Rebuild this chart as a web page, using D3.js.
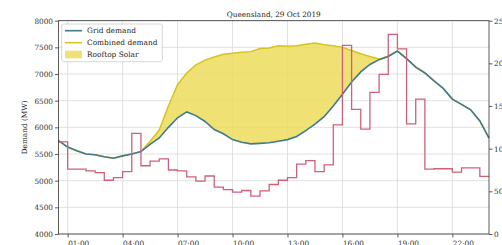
<!DOCTYPE html>
<html>
<head>
<meta charset="utf-8">
<script src="https://cdn.jsdelivr.net/npm/d3@7"></script>
<style>
  body { margin: 0; background: #fff; }
  svg { display: block; font-family: "DejaVu Serif", serif; }
</style>
</head>
<body>
<svg id="chart" width="502" height="245"></svg>
<script>
// Half-hourly readings, 00:30 to 24:00
var gridDemand = [5750, 5630, 5560, 5500, 5485, 5450, 5420, 5465, 5500, 5545,
    5680, 5800, 6000, 6180, 6290, 6220, 6110, 5960, 5880, 5770,
    5720, 5690, 5700, 5710, 5740, 5770, 5830, 5940, 6060, 6200,
    6400, 6620, 6850, 7040, 7180, 7270, 7330, 7430, 7290, 7130,
    7020, 6870, 6730, 6530, 6430, 6330, 6120, 5800];

var combinedDemand = [5750, 5630, 5560, 5500, 5485, 5450, 5420, 5465, 5500, 5545,
    5740, 5950, 6400, 6800, 7020, 7170, 7260, 7320, 7370, 7390,
    7410, 7420, 7480, 7490, 7530, 7520, 7530, 7560, 7580, 7550,
    7530, 7500, 7440, 7380, 7330, 7280, 7340, 7430, 7290, 7130,
    7020, 6870, 6730, 6530, 6430, 6330, 6120, 5800];

// right axis, step line
var price = [108, 76, 76, 74, 72, 63, 66, 73, 118, 80,
    85.5, 88, 75, 74, 67, 62, 68, 55, 52, 49,
    51, 44.5, 50.5, 58, 63, 66, 82, 86, 73, 81,
    128, 221, 146, 123, 166, 187, 234, 217, 129, 158,
    76, 76.5, 76.5, 72.5, 77.5, 77.5, 67.5, 67.5];

var demandTicks = [4000, 4500, 5000, 5500, 6000, 6500, 7000, 7500, 8000];
var priceTicks = [0, 50, 100, 150, 200, 250];
var hourTicks = [1, 4, 7, 10, 13, 16, 19, 22];

var startTime = new Date(2019, 9, 29, 0, 30);
var times = d3.range(gridDemand.length).map(i => d3.timeMinute.offset(startTime, 30 * i));
var data = times.map((t, i) => ({
    t: t, grid: gridDemand[i], combined: combinedDemand[i], price: price[i]
}));

var plotLeft = 58.5, plotRight = 489, plotTop = 20.7, plotBottom = 234;
var svg = d3.select("#chart");

var x = d3.scaleTime().domain([times[0], times[times.length - 1]]).range([plotLeft, plotRight]);
var y = d3.scaleLinear().domain([4000, 8000]).range([plotBottom, plotTop]);
var y2 = d3.scaleLinear().domain([0, 250]).range([plotBottom, plotTop]);
var tickDates = hourTicks.map(h => new Date(2019, 9, 29, h, 0));

// grid lines
svg.append("g").selectAll("line").data(tickDates).enter().append("line")
    .attr("x1", d => x(d)).attr("x2", d => x(d))
    .attr("y1", plotTop).attr("y2", plotBottom)
    .attr("stroke", "#d9d9d9").attr("stroke-width", 0.8);
svg.append("g").selectAll("line").data(demandTicks).enter().append("line")
    .attr("x1", plotLeft).attr("x2", plotRight)
    .attr("y1", d => y(d)).attr("y2", d => y(d))
    .attr("stroke", "#d9d9d9").attr("stroke-width", 0.8);

// rooftop solar area
svg.append("path")
    .datum(data)
    .attr("d", d3.area().x(d => x(d.t)).y0(d => y(d.grid)).y1(d => y(d.combined)))
    .attr("fill", "#ecdc5c").attr("opacity", 0.85);

svg.append("path")
    .datum(data)
    .attr("d", d3.line().x(d => x(d.t)).y(d => y(d.combined)))
    .attr("fill", "none").attr("stroke", "#d8c41e").attr("stroke-width", 1.5);

svg.append("path")
    .datum(data)
    .attr("d", d3.line().x(d => x(d.t)).y(d => y(d.grid)))
    .attr("fill", "none").attr("stroke", "#3f7b8e").attr("stroke-width", 1.6);

svg.append("path")
    .datum(data)
    .attr("d", d3.line().curve(d3.curveStepAfter).x(d => x(d.t)).y(d => y2(d.price)))
    .attr("fill", "none").attr("stroke", "#d0607a").attr("stroke-width", 1.3);

// axes
var axLeft = svg.append("g")
    .attr("transform", "translate(" + plotLeft + ",0)")
    .call(d3.axisLeft(y).tickValues(demandTicks).tickSize(3.5).tickPadding(2).tickFormat(d3.format("d")));
var axRight = svg.append("g")
    .attr("transform", "translate(" + plotRight + ",0)")
    .call(d3.axisRight(y2).tickValues(priceTicks).tickSize(3.5).tickPadding(1.5).tickFormat(d3.format("d")));
var axBottom = svg.append("g")
    .attr("transform", "translate(0," + plotBottom + ")")
    .call(d3.axisBottom(x).tickValues(tickDates).tickSize(3.5).tickFormat(d3.timeFormat("%H:%M")));
axBottom.selectAll("text").attr("text-anchor", "start").attr("y", 12).attr("dy", 0);

[axLeft, axRight, axBottom].forEach(function(g) {
    g.selectAll(".domain").remove();
    g.selectAll("line").attr("stroke", "#333").attr("stroke-width", 0.8);
    g.selectAll("text").attr("font-family", "DejaVu Serif").attr("font-size", "7.3px").attr("fill", "#333");
});

// frame
svg.append("rect")
    .attr("x", plotLeft).attr("y", plotTop)
    .attr("width", plotRight - plotLeft).attr("height", plotBottom - plotTop)
    .attr("fill", "none").attr("stroke", "#333").attr("stroke-width", 0.8);

svg.append("text")
    .attr("x", (plotLeft + plotRight) / 2).attr("y", 16.5)
    .attr("text-anchor", "middle").attr("font-size", "7.3px").attr("fill", "#222")
    .text("Queensland, 29 Oct 2019");

svg.append("text")
    .attr("transform", "translate(27," + ((plotTop + plotBottom) / 2) + ") rotate(-90)")
    .attr("text-anchor", "middle").attr("font-size", "7.3px").attr("fill", "#222")
    .text("Demand (MW)");

// legend
var legend = svg.append("g");
legend.append("rect")
    .attr("x", 61.7).attr("y", 24).attr("width", 100.6).attr("height", 37.7)
    .attr("rx", 2).attr("fill", "#fff").attr("fill-opacity", 0.8)
    .attr("stroke", "#cccccc").attr("stroke-width", 0.8);
legend.append("line").attr("x1", 65).attr("x2", 82).attr("y1", 30.7).attr("y2", 30.7)
    .attr("stroke", "#3f7b8e").attr("stroke-width", 1.6);
legend.append("line").attr("x1", 65).attr("x2", 82).attr("y1", 42.7).attr("y2", 42.7)
    .attr("stroke", "#d8c41e").attr("stroke-width", 1.5);
legend.append("rect").attr("x", 65).attr("y", 50.7).attr("width", 17).attr("height", 7.6)
    .attr("fill", "#ecdc5c").attr("opacity", 0.85);
var labels = ["Grid demand", "Combined demand", "Rooftop Solar"];
legend.selectAll("text.lbl").data(labels).enter().append("text")
    .attr("class", "lbl")
    .attr("x", 87).attr("y", (d, i) => 33.3 + i * 11.9)
    .attr("font-size", "7.4px").attr("fill", "#222")
    .text(d => d);
</script>
</body>
</html>
